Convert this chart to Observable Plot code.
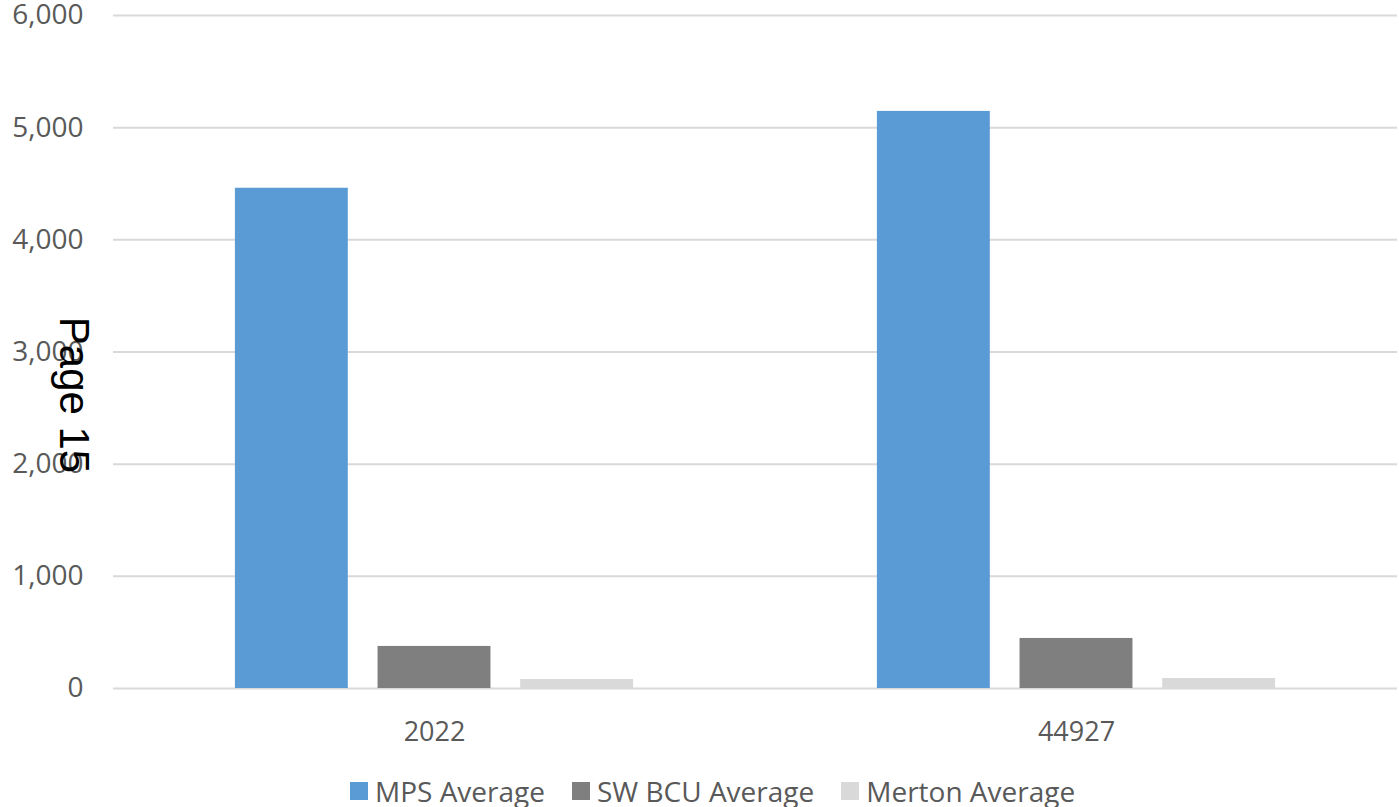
<!DOCTYPE html>
<html>
<head>
<meta charset="utf-8">
<script src="https://cdn.jsdelivr.net/npm/d3@7"></script>
<script src="https://cdn.jsdelivr.net/npm/@observablehq/plot@0.6"></script>
<style>
  html, body { margin: 0; padding: 0; background: #fff; }
  #wrap { position: relative; width: 1399px; height: 807px; overflow: hidden; }
  #legend { position: absolute; left: 350px; top: 776px; display: flex; align-items: center;
            font-family: "Open Sans", sans-serif; font-size: 28px; line-height: 30px; color: #595959; }
  .item { display: flex; align-items: center; margin-right: 27px; }
  .sw { width: 18px; height: 18px; margin-right: 7px; }
  #page { position: absolute; left: 74px; top: 395px; transform: translate(-50%, -50%) rotate(90deg);
          font-family: "Liberation Sans", Arial, sans-serif; font-size: 42px; line-height: 1; color: #000; white-space: nowrap; }
</style>
</head>
<body>
<div id="wrap">
  <div id="chart"></div>
  <div id="legend"></div>
  <div id="page">Page 15</div>
</div>
<script>
const years = ["2022", "44927"];
const series = ["MPS Average", "SW BCU Average", "Merton Average"];
const mpsAverage = [4460, 5145];
const swBcuAverage = [375, 446];
const mertonAverage = [80, 89];
const colors = ["#5b9bd5", "#7f7f7f", "#d9d9d9"];
const yTicks = [0, 1000, 2000, 3000, 4000, 5000, 6000];

const valuesBySeries = [mpsAverage, swBcuAverage, mertonAverage];
const data = [];
years.forEach((yr, i) => {
  series.forEach((s, j) => data.push({year: yr, series: s, value: valuesBySeries[j][i]}));
});

const chart = Plot.plot({
  width: 1399,
  height: 755,
  marginLeft: 112,
  marginRight: 2,
  marginTop: 15,
  marginBottom: 67,
  style: {fontFamily: "'Open Sans', sans-serif", fontSize: "27px", color: "#595959", background: "transparent", overflow: "visible"},
  fx: {domain: years, padding: 0, label: null, axis: "bottom", tickSize: 0, tickPadding: 33},
  x: {domain: series, paddingInner: 0.2084, paddingOuter: 0.8546, round: false, axis: null},
  y: {domain: [0, 6000], ticks: yTicks, tickFormat: d3.format(","), label: null, tickSize: 0, tickPadding: 30},
  color: {domain: series, range: colors},
  marks: [
    Plot.ruleY(yTicks, {stroke: "#d9d9d9", strokeWidth: 2}),
    Plot.barY(data, {fx: "year", x: "series", y: "value", fill: "series"}),
    Plot.axisY({ticks: yTicks, tickFormat: d3.format(","), tickSize: 0, tickPadding: 30, fontSize: 28, label: null})
  ]
});
document.getElementById("chart").appendChild(chart);

const legend = document.getElementById("legend");
series.forEach((s, j) => {
  const it = document.createElement("div");
  it.className = "item";
  const sw = document.createElement("div");
  sw.className = "sw";
  sw.style.background = colors[j];
  const lb = document.createElement("span");
  lb.textContent = s;
  it.appendChild(sw);
  it.appendChild(lb);
  legend.appendChild(it);
});
</script>
</body>
</html>
